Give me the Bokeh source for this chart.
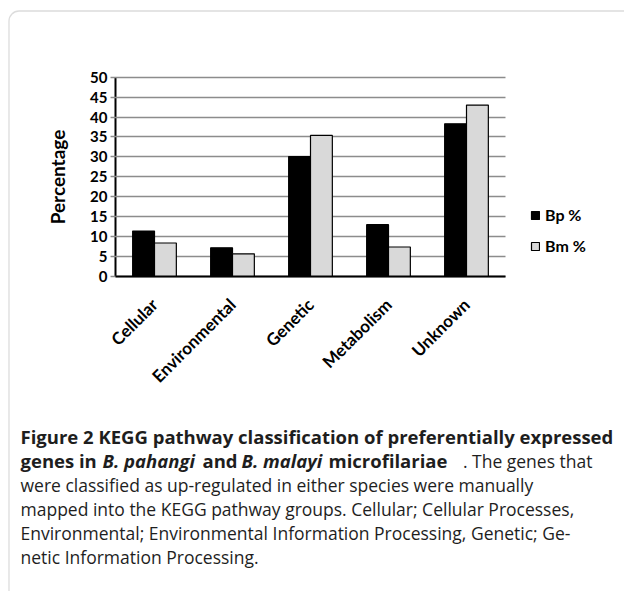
from math import pi
from bokeh.plotting import figure
from bokeh.models import (ColumnDataSource, Range1d, FixedTicker, LinearAxis, Legend,
                          LegendItem, Label, BoxAnnotation)
from bokeh.transform import dodge
from bokeh.embed import file_html
from bokeh.resources import INLINE

categories = ["Cellular", "Environmental", "Genetic", "Metabolism", "Unknown"]
bp_pct = [11.4, 7.2, 30.1, 13.0, 38.3]
bm_pct = [8.4, 5.7, 35.4, 7.4, 43.0]
series_names = ["Bp %", "Bm %"]
y_ticks = [0, 5, 10, 15, 20, 25, 30, 35, 40, 45, 50]

# caption segments: (text, style, x offset from the left margin, alignment)
caption_lines = [
    [("Figure 2 KEGG pathway classification of preferentially expressed", "bold", 0, "left")],
    [("genes in", "bold", 0, "left"), ("B. pahangi", "bold italic", 82, "left"),
     ("and", "bold", 182, "left"), ("B. malayi", "bold italic", 221, "left"),
     ("microfilariae", "bold", 308, "left"), (". The genes that", "normal", 572, "right")],
    [("were classified as up-regulated in either species were manually", "normal", 0, "left")],
    [("mapped into the KEGG pathway groups. Cellular; Cellular Processes,", "normal", 0, "left")],
    [("Environmental; Environmental Information Processing, Genetic; Ge-", "normal", 0, "left")],
    [("netic Information Processing.", "normal", 0, "left")],
]

# canvas geometry (px); the plot frame covers the whole canvas
W, H = 624, 591
CH_LEFT, CH_RIGHT = 115, 505      # chart area left/right (canvas px)
CH_TOP, CH_BOTTOM = 76.7, 276     # chart area top/bottom (canvas px)
n = len(categories)
px_cat = (CH_RIGHT - CH_LEFT) / n
px_unit = (CH_BOTTOM - CH_TOP) / 50.0

x_range = Range1d(-CH_LEFT / px_cat, (W - CH_LEFT) / px_cat)
y_range = Range1d(-(H - CH_BOTTOM) / px_unit, 50 + CH_TOP / px_unit)

cat_pos = [i + 0.5 for i in range(n)]
src = ColumnDataSource(dict(pos=cat_pos, cat=categories, bp=bp_pct, bm=bm_pct))

p = figure(width=W, height=H, output_backend="svg", toolbar_location=None,
           x_range=x_range, y_range=y_range,
           x_axis_location=None, y_axis_location=None, min_border=0,
           background_fill_color="white", border_fill_color="white")
p.outline_line_color = None
p.grid.grid_line_color = None

# rounded panel frame
p.add_layout(BoxAnnotation(left=8.5, right=W + 100, top=H - 10.5, bottom=-60,
                           left_units="screen", right_units="screen",
                           top_units="screen", bottom_units="screen",
                           fill_alpha=0, line_color="#8a8a8a", line_width=1.3,
                           border_radius=10, level="underlay"))

# y axis (its long inward ticks act as the horizontal gridlines)
ya = LinearAxis(fixed_location=0, bounds=(0, 50), ticker=FixedTicker(ticks=y_ticks),
                level="underlay")
ya.axis_line_color = "black"
ya.axis_line_width = 2
ya.major_tick_out = 5
ya.major_tick_in = int(round(CH_RIGHT - CH_LEFT))
ya.major_tick_line_color = "#8c8c8c"
ya.major_tick_line_width = 1.5
ya.minor_tick_line_color = None
ya.major_label_text_font = "Lato"
ya.major_label_text_font_style = "bold"
ya.major_label_text_font_size = "15px"
ya.major_label_text_color = "black"
ya.major_label_standoff = 3
ya.axis_label = "Percentage"
ya.axis_label_text_font = "Lato"
ya.axis_label_text_font_style = "bold"
ya.axis_label_text_font_size = "19px"
ya.axis_label_text_color = "black"
ya.axis_label_standoff = 18
p.add_layout(ya, "left")

r1 = p.vbar(x=dodge("pos", -0.14), top="bp", width=0.28, bottom=0,
            source=src, fill_color="black", line_color="black", line_width=1.2)
r2 = p.vbar(x=dodge("pos", 0.14), top="bm", width=0.28, bottom=0,
            source=src, fill_color="#d9d9d9", line_color="black", line_width=1.2)

xa = LinearAxis(fixed_location=0, bounds=(0, n), ticker=FixedTicker(ticks=cat_pos),
                major_label_overrides={pos: cat for pos, cat in zip(cat_pos, categories)})
xa.axis_line_color = "black"
xa.axis_line_width = 2
xa.major_tick_out = 0
xa.major_tick_in = 0
xa.major_tick_line_color = None
xa.minor_tick_line_color = None
xa.major_label_orientation = pi / 4
xa.major_label_text_font = "Lato"
xa.major_label_text_font_style = "bold"
xa.major_label_text_font_size = "17px"
xa.major_label_text_color = "black"
xa.major_label_standoff = 25
p.add_layout(xa, "below")

legend = Legend(items=[LegendItem(label=series_names[0], renderers=[r1]),
                       LegendItem(label=series_names[1], renderers=[r2])],
                location=(530, H - 255), orientation="vertical",
                glyph_width=10, glyph_height=10, label_height=14, spacing=12,
                label_standoff=5, padding=0, margin=0,
                border_line_color=None, background_fill_alpha=0,
                label_text_font="Lato", label_text_font_style="bold",
                label_text_font_size="16px", label_text_color="black")
p.add_layout(legend)

# caption (screen px measured from the canvas bottom-left)
y_first = 436     # canvas px from top, centre of first line
line_gap = 24
x_left = 20
for i, segs in enumerate(caption_lines):
    for text, style, xoff, align in segs:
        size = "18.5px" if "bold" in style else "17.5px"
        p.add_layout(Label(x=x_left + xoff, y=H - (y_first + i * line_gap),
                           x_units="screen", y_units="screen", text=text,
                           text_font="Open Sans", text_font_style=style,
                           text_font_size=size, text_color="#1e1e1e",
                           text_baseline="middle", text_align=align))

open("out.html", "w").write(file_html(p, INLINE))
